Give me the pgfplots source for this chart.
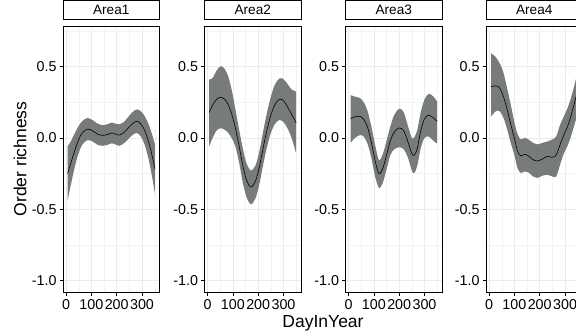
\documentclass[border=0pt]{standalone}
\usepackage{fontspec}
\setmainfont{Liberation Sans}
\usepackage{pgfplots}
\pgfplotsset{compat=1.18}
\usepgfplotslibrary{fillbetween}
\usepackage{pgfplotstable}
\definecolor{ribbon}{HTML}{787B7B}
\definecolor{gridc}{HTML}{EBEBEB}

\pgfplotstableread{
x fit lo hi
6 -0.25 -0.44 -0.06
20 -0.17 -0.32 -0.02
35 -0.085 -0.20 0.035
50 -0.01 -0.105 0.085
65 0.038 -0.045 0.12
85 0.062 -0.015 0.14
105 0.05 -0.025 0.125
125 0.026 -0.048 0.10
145 0.018 -0.055 0.09
165 0.025 -0.047 0.097
180 0.035 -0.038 0.108
195 0.028 -0.045 0.10
210 0.02 -0.055 0.095
230 0.04 -0.035 0.115
250 0.078 0.0 0.157
268 0.108 0.028 0.19
282 0.117 0.033 0.2
296 0.097 0.008 0.186
310 0.055 -0.045 0.155
325 -0.02 -0.14 0.10
338 -0.11 -0.255 0.035
351 -0.216 -0.39 -0.045
}\areaA

\pgfplotstableread{
x fit lo hi
6 0.178 -0.06 0.41
20 0.23 0.0 0.42
35 0.27 0.05 0.47
50 0.285 0.068 0.502
65 0.275 0.06 0.49
80 0.24 0.04 0.44
95 0.17 0.00 0.34
110 0.07 -0.06 0.20
125 -0.06 -0.175 0.055
140 -0.2 -0.32 -0.08
155 -0.30 -0.42 -0.185
172 -0.345 -0.465 -0.228
190 -0.30 -0.42 -0.19
205 -0.20 -0.32 -0.09
220 -0.065 -0.185 0.05
235 0.06 -0.06 0.18
250 0.16 0.035 0.29
265 0.23 0.095 0.37
282 0.27 0.125 0.415
298 0.265 0.115 0.415
315 0.22 0.07 0.38
332 0.165 0.0 0.34
350 0.105 -0.11 0.325
}\areaB

\pgfplotstableread{
x fit lo hi
8 0.136 -0.035 0.30
25 0.148 0.0 0.29
45 0.152 0.02 0.28
60 0.13 0.01 0.25
75 0.075 -0.04 0.19
90 -0.03 -0.14 0.08
105 -0.16 -0.27 -0.05
120 -0.25 -0.35 -0.155
135 -0.215 -0.315 -0.115
150 -0.12 -0.22 -0.02
165 -0.02 -0.12 0.08
180 0.04 -0.08 0.16
200 0.07 -0.065 0.205
218 0.05 -0.08 0.18
235 -0.03 -0.14 0.08
250 -0.11 -0.23 0.0
260 -0.12 -0.245 0.005
272 -0.07 -0.19 0.06
285 0.05 -0.07 0.18
300 0.135 0.0 0.27
317 0.16 0.01 0.31
335 0.14 -0.02 0.29
350 0.117 -0.04 0.255
}\areaC

\pgfplotstableread{
x fit lo hi
8 0.36 0.15 0.594
25 0.365 0.185 0.57
40 0.355 0.19 0.53
55 0.30 0.15 0.47
70 0.21 0.07 0.36
85 0.10 -0.03 0.24
100 0.0 -0.12 0.11
112 -0.09 -0.21 0.03
125 -0.125 -0.245 -0.01
140 -0.115 -0.235 0.0
155 -0.125 -0.24 -0.01
170 -0.148 -0.265 -0.03
190 -0.162 -0.28 -0.045
210 -0.148 -0.265 -0.035
230 -0.13 -0.258 -0.025
250 -0.135 -0.27 -0.01
265 -0.12 -0.27 0.01
280 -0.05 -0.19 0.09
295 0.02 -0.11 0.15
310 0.08 -0.055 0.21
325 0.165 0.02 0.29
340 0.265 0.11 0.39
355 0.36 0.19 0.50
}\areaD

\pgfplotsset{panel/.style={
  scale only axis, width=96.5pt, height=266pt,
  xmin=-12, xmax=369, ymin=-1.08, ymax=0.785,
  xtick={0,100,200,300}, minor xtick={50,150,250,350},
  ytick={-1,-0.5,0,0.5}, minor ytick={-0.75,-0.25,0.25,0.75},
  yticklabels={-1.0,-0.5,0.0,0.5},
  grid=both,
  major grid style={draw=gridc, line width=0.6pt},
  minor grid style={draw=gridc!60, line width=0.35pt},
  tick align=outside, tickpos=left,
  major tick length=3.5pt, minor tick length=0pt,
  tick style={black, line width=0.6pt},
  axis line style={black, line width=0.8pt},
  tick label style={font=\fontsize{14.3}{15}\selectfont},
  yticklabel style={xshift=0.5pt},
  /pgf/number format/assume math mode=true,
  scaled ticks=false,
  title style={draw=black, line width=0.8pt, fill=white, at={(0.5,1)}, anchor=south,
    minimum width=96.5pt, minimum height=18.7pt, inner sep=0pt,
    font=\fontsize{13.6}{14}\selectfont, yshift=0pt},
}}

\newcommand{\panelplots}[1]{%
  \addplot[draw=none, name path=hi, smooth] table[x=x,y=hi]{#1};
  \addplot[draw=none, name path=lo, smooth] table[x=x,y=lo]{#1};
  \addplot[ribbon, draw=none] fill between[of=hi and lo];
  \addplot[black, line width=0.6pt, smooth] table[x=x,y=fit]{#1};
}

\begin{document}
\begin{tikzpicture}
\begin{axis}[panel, at={(63pt,43pt)}, anchor=south west, title={Area1}]
\panelplots{\areaA}
\end{axis}
\begin{axis}[panel, at={(204.5pt,43pt)}, anchor=south west, title={Area2}]
\panelplots{\areaB}
\end{axis}
\begin{axis}[panel, at={(345.5pt,43pt)}, anchor=south west, title={Area3}]
\panelplots{\areaC}
\end{axis}
\begin{axis}[panel, at={(486pt,43pt)}, anchor=south west, title={Area4}]
\panelplots{\areaD}
\end{axis}
\node[rotate=90, font=\fontsize{17.5}{18}\selectfont] at (20pt,176pt) {Order richness};
\node[anchor=base, font=\fontsize{17.5}{18}\selectfont] at (323pt,7.7pt) {DayInYear};
\pgfresetboundingbox
\useasboundingbox (0,0) rectangle (576pt,335pt);
\end{tikzpicture}
\end{document}
